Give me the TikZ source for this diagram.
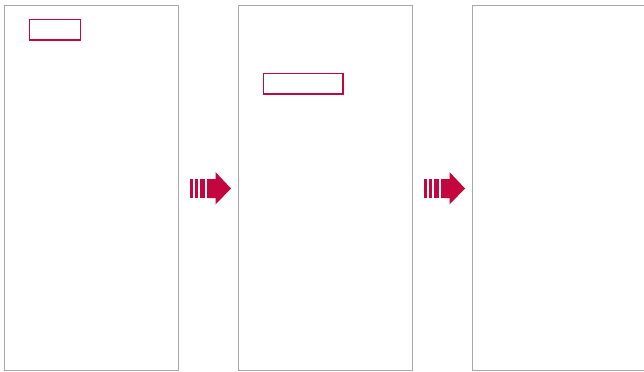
\documentclass[tikz,border=0pt]{standalone}
\usetikzlibrary{calc}
\definecolor{crim}{HTML}{C4063F}
\definecolor{pgray}{HTML}{A8A8A8}
\tikzset{
  panel/.style={draw=pgray, line width=1bp, fill=white},
  hl/.style={draw=crim, line width=1.2bp},
  arr/.style={fill=crim, draw=none}
}
\begin{document}
\begin{tikzpicture}[x=1bp,y=-1bp]
\useasboundingbox (0,0) rectangle (644,371);
\fill[white] (0,0) rectangle (644,371);
% panels
\draw[panel] (4.5,5.5) rectangle (178,370.5);
\draw[panel] (238.5,5.5) rectangle (412,370.5);
\draw[panel] (472,5.5) rectangle (660,370.5);
% highlight boxes
\draw[hl] (29.5,19.5) rectangle (80.5,40);
\draw[hl] (263.5,73.5) rectangle (343,94);
% arrows
\foreach \dx in {0,234}{
  \begin{scope}[xshift=\dx bp]
    \fill[arr] (190,179) rectangle (193,198);
    \fill[arr] (195,179) rectangle (198,198);
    \fill[arr] (200,179) rectangle (205,198);
    \fill[arr] (207,179) -- (215.5,179) -- (215.5,172) -- (231,188.5) -- (215.5,204.5) -- (215.5,198) -- (207,198) -- cycle;
  \end{scope}
}
\end{tikzpicture}
\end{document}
